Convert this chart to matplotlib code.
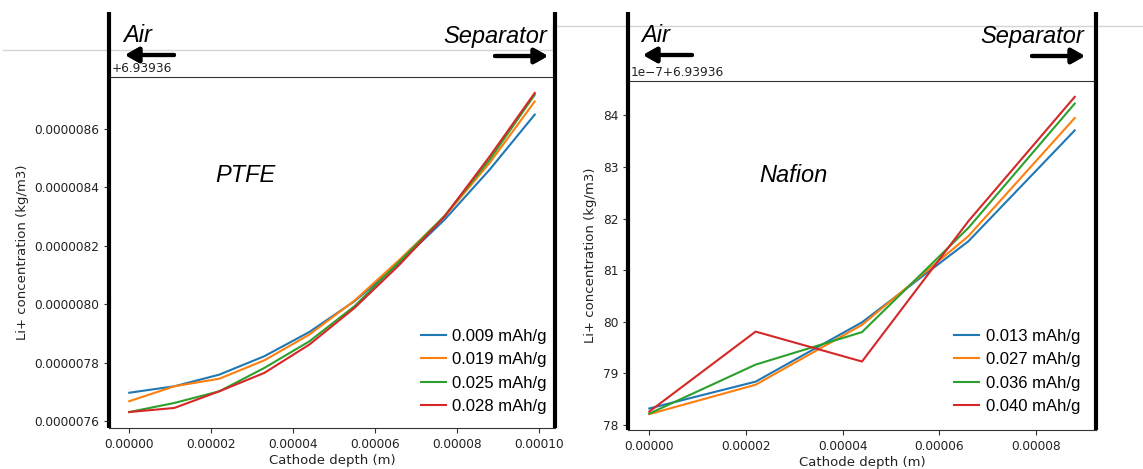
import matplotlib
matplotlib.use("Agg")
import matplotlib.pyplot as plt
from matplotlib.lines import Line2D
from matplotlib.ticker import MultipleLocator, FuncFormatter, FormatStrFormatter

# Li+ concentration given as (value - 6.93936) in units of 1e-7 kg/m3
ptfe_depth = [0.0, 1.1e-5, 2.2e-5, 3.3e-5, 4.4e-5, 5.5e-5, 6.6e-5, 7.7e-5, 8.8e-5, 9.9e-5]
ptfe_labels = ["0.009 mAh/g", "0.019 mAh/g", "0.025 mAh/g", "0.028 mAh/g"]
ptfe_009 = [76.97, 77.19, 77.59, 78.22, 79.05, 80.10, 81.41, 82.89, 84.60, 86.48]
ptfe_019 = [76.68, 77.19, 77.45, 78.08, 78.96, 80.12, 81.52, 83.00, 84.83, 86.93]
ptfe_025 = [76.31, 76.62, 77.02, 77.82, 78.73, 79.93, 81.46, 83.02, 84.94, 87.16]
ptfe_028 = [76.31, 76.45, 77.02, 77.65, 78.62, 79.87, 81.35, 83.00, 85.05, 87.22]

nafion_depth = [0.0, 2.2e-5, 4.4e-5, 6.6e-5, 8.8e-5]
nafion_labels = ["0.013 mAh/g", "0.027 mAh/g", "0.036 mAh/g", "0.040 mAh/g"]
nafion_013 = [78.32, 78.84, 79.99, 81.56, 83.71]
nafion_027 = [78.21, 78.78, 79.94, 81.66, 83.95]
nafion_036 = [78.22, 79.17, 79.80, 81.82, 84.23]
nafion_040 = [78.26, 79.81, 79.23, 81.95, 84.36]

W, H = 1143, 469
colors = ["#1f77b4", "#ff7f0e", "#2ca02c", "#d62728"]
sans = ["Liberation Sans", "DejaVu Sans"]


def fx(x):
    return x / W


def fy(y):
    return 1 - y / H


fig = plt.figure(figsize=(W / 100, H / 100), dpi=100)

# screenshot border lines in the background
fig.add_artist(Line2D([fx(3), fx(553), fx(553), fx(W)], [fy(50), fy(50), fy(26), fy(26)],
                      transform=fig.transFigure, color="#d4d4d4", lw=1, zorder=0))

panels = [
    dict(box=(109, 555, 77, 428), depth=ptfe_depth, series=[ptfe_009, ptfe_019, ptfe_025, ptfe_028],
         labels=ptfe_labels, name="PTFE", name_pos=(0.305, 0.72), offset="+6.93936",
         air=(123, 174), sep=(547, 495), leg=(0.982, 0.04)),
    dict(box=(628, 1096, 81, 430), depth=nafion_depth, series=[nafion_013, nafion_027, nafion_036, nafion_040],
         labels=nafion_labels, name="Nafion", name_pos=(0.353, 0.73), offset="1e\u22127+6.93936",
         air=(641, 692), sep=(1084, 1032), leg=(0.966, 0.046)),
]

for i, p in enumerate(panels):
    x0, x1, y0, y1 = p["box"]
    ax = fig.add_axes([fx(x0), fy(y1), (x1 - x0) / W, (y1 - y0) / H])
    for s, lab, c in zip(p["series"], p["labels"], colors):
        ax.plot(p["depth"], s, color=c, lw=1.5, label=lab)

    ax.xaxis.set_major_locator(MultipleLocator(2e-5))
    ax.xaxis.set_major_formatter(FormatStrFormatter("%.5f"))
    if i == 0:
        ax.yaxis.set_major_locator(MultipleLocator(2))
        ax.yaxis.set_major_formatter(FuncFormatter(lambda v, _: f"{v * 1e-7:.7f}"))
    else:
        ax.yaxis.set_major_locator(MultipleLocator(1))
        ax.yaxis.set_major_formatter(FuncFormatter(lambda v, _: f"{v:.0f}"))
    ax.tick_params(labelsize=8.7, colors="#333333", labelcolor="#222222")
    ax.set_xlabel("Cathode depth (m)", fontsize=9.5, color="#222222", labelpad=2)
    ax.set_ylabel("Li+ concentration (kg/m3)", fontsize=9.5, color="#222222")
    for sp in ax.spines.values():
        sp.set_color("#333333")

    ax.text(3 / (x1 - x0), 1.005, p["offset"], transform=ax.transAxes, ha="left", va="bottom",
            fontsize=8.7, color="#222222")
    ax.text(p["name_pos"][0], p["name_pos"][1], p["name"], transform=ax.transAxes,
            ha="center", va="center", fontsize=17, style="italic", family=sans)

    ax.legend(loc="lower right", bbox_to_anchor=p["leg"], frameon=False,
              handlelength=1.5, handletextpad=0.4, labelspacing=0.5,
              borderaxespad=0, borderpad=0, prop={"family": sans, "size": 12})

    # thick boundary bars
    for xx in (x0, x1):
        fig.add_artist(Line2D([fx(xx), fx(xx)], [fy(12), fy(y1)], transform=fig.transFigure,
                              color="k", lw=3, solid_capstyle="butt", zorder=5))

    # Air / Separator labels with arrows
    fig.text(fx(p["air"][0]), fy(36), "Air", ha="left", va="center", fontsize=17,
             style="italic", family=sans)
    fig.text(fx(p["sep"][0]), fy(37), "Separator", ha="right", va="center", fontsize=17,
             style="italic", family=sans)
    arrow = dict(arrowstyle="-|>,head_length=0.8,head_width=0.45", lw=3, color="k",
                 shrinkA=0, shrinkB=0, mutation_scale=10)
    fig.add_artist(plt.annotate("", xy=(fx(p["air"][0] + 2), fy(55)), xytext=(fx(p["air"][1]), fy(55)),
                                xycoords="figure fraction", textcoords="figure fraction", arrowprops=arrow))
    fig.add_artist(plt.annotate("", xy=(fx(p["sep"][0] + 1), fy(56)), xytext=(fx(p["sep"][1]), fy(56)),
                                xycoords="figure fraction", textcoords="figure fraction", arrowprops=arrow))

fig.savefig("out.png", dpi=100, facecolor="white")
